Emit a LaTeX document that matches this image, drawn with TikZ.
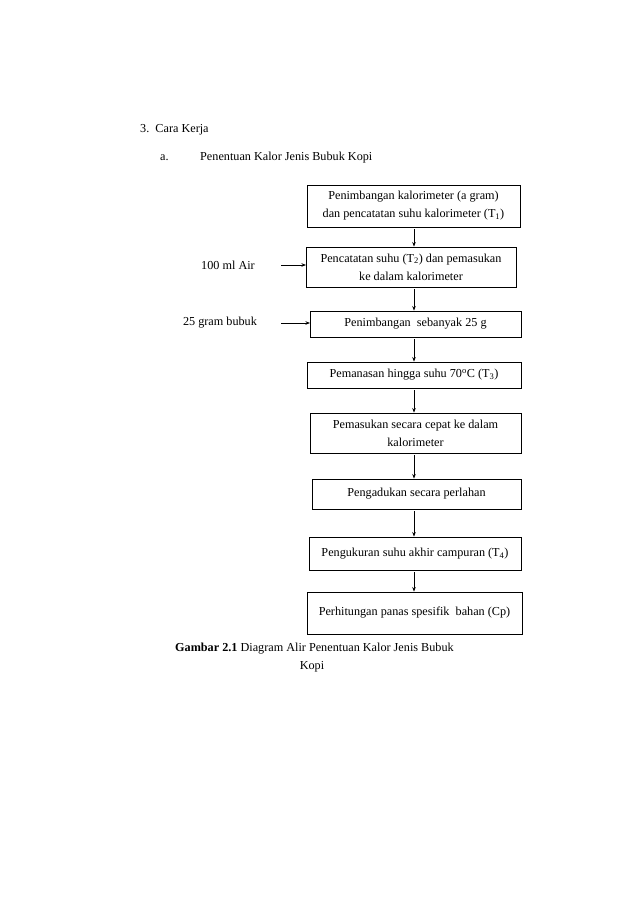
\documentclass[tikz,border=0pt]{standalone}
\usepackage{fontspec}
\setmainfont{Liberation Serif}
\usetikzlibrary{arrows.meta}
\begin{document}
\begin{tikzpicture}[x=1pt,y=-1pt,
  every node/.style={font=\fontsize{12.2}{18}\selectfont},
  stepbox/.style={draw, line width=0.9pt, inner sep=0pt, align=center},
  flow/.style={-{Stealth[length=4.5pt,width=3.5pt]}, line width=0.7pt},
  plain/.style={inner sep=0pt, anchor=west}]
\useasboundingbox (0,0) rectangle (638,903);
\newcommand{\bx}[6]{\node[stepbox, minimum width={#4-#2}, minimum height={#5-#3}] (#1) at ({(#2+#4)/2},{(#3+#5)/2}) {#6};}
\node[plain] (t3) at (140,130) {3.\ \ Cara Kerja};
\node[plain] (ta) at (160,158) {a.};
\node[plain] (tpen) at (200,158) {Penentuan\ Kalor Jenis\ Bubuk\ Kopi};
\bx{b1}{307}{185}{520}{227}{Penimbangan\ kalorimeter\ (a gram)\\dan pencatatan\ suhu kalorimeter\ (T\textsubscript{1})}
\bx{b2}{306}{247}{516}{287}{Pencatatan\ suhu\ (T\textsubscript{2}) dan pemasukan\\ke dalam kalorimeter}
\bx{b3}{310}{311}{521}{337}{Penimbangan\ \ sebanyak\ 25 g}
\bx{b4}{307}{362}{521}{388}{Pemanasan\ hingga\ suhu\ 70\textsuperscript{o}C (T\textsubscript{3})}
\bx{b5}{310}{413}{521}{453}{Pemasukan\ secara cepat ke dalam\\kalorimeter}
\bx{b6}{312}{479}{521}{509}{Pengadukan\ secara perlahan}
\bx{b7}{309}{537}{521}{570}{Pengukuran\ suhu\ akhir campuran\ (T\textsubscript{4})}
\bx{b8}{307}{592}{522}{634}{Perhitungan\ panas spesifik\ \ bahan (Cp)}
\node (air) at (228,265) {100 ml\ Air};
\node (bubuk) at (220,323) {25 gram bubuk};
\coordinate (a1) at (281,265);
\coordinate (a2) at (281,323);
\draw[flow] (a1) -- (306,265);
\draw[flow] (a2) -- (310,323);
\foreach \u/\v in {b1/b2,b2/b3,b3/b4,b4/b5,b5/b6,b6/b7,b7/b8}
  \draw[flow] (\u.south -| 414,0) ++(0,2) -- (\v.north -| 414,0);
\node[plain] (cap1) at (175,649) {\textbf{Gambar\ 2.1} Diagram\ Alir\ Penentuan\ Kalor Jenis\ Bubuk};
\node (cap2) at (312,667) {Kopi};
\end{tikzpicture}
\end{document}
